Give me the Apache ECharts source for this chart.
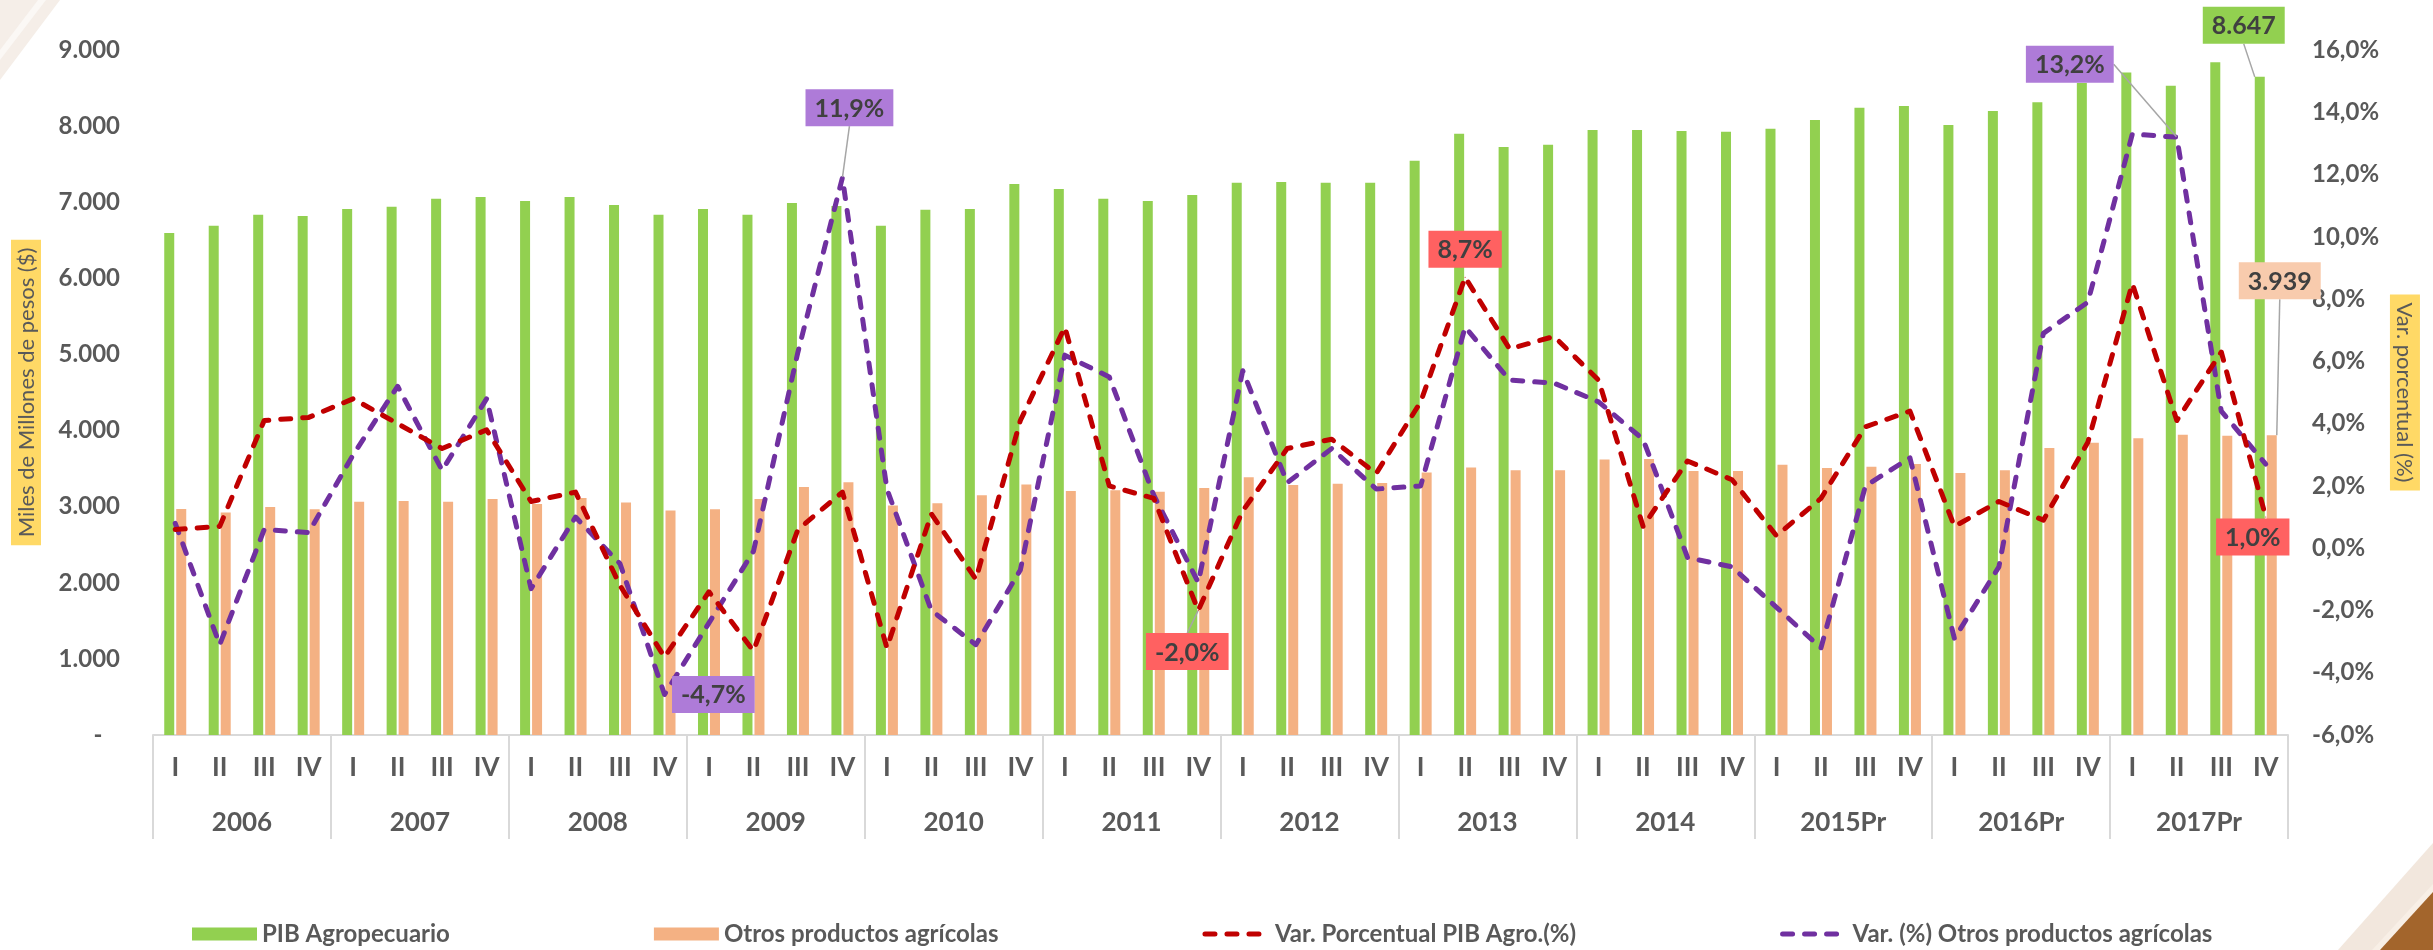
<!DOCTYPE html>
<html>
<head>
<meta charset="utf-8">
<title>PIB Agropecuario y Otros productos agrícolas</title>
<script src="https://cdn.jsdelivr.net/npm/echarts@6/dist/echarts.min.js"></script>
<style>
  html, body { margin: 0; padding: 0; background: #fff; }
  #main { width: 2433px; height: 950px; }
</style>
</head>
<body>
<div id="main"></div>
<script>
var myChart = echarts.init(document.getElementById('main'));

// datos trimestrales 2006 - 2017Pr
var years = ['2006', '2007', '2008', '2009', '2010', '2011', '2012', '2013', '2014', '2015Pr', '2016Pr', '2017Pr'];
var quarters = ['I', 'II', 'III', 'IV'];

// Miles de millones de pesos
var pibAgro = [
  6595, 6690, 6835, 6820, 6910, 6940, 7045, 7070, 7015, 7070, 6965, 6835,
  6910, 6835, 6990, 6950, 6690, 6900, 6910, 7240, 7175, 7045, 7015, 7095,
  7255, 7265, 7255, 7255, 7545, 7900, 7725, 7755, 7950, 7950, 7935, 7925,
  7965, 8080, 8240, 8265, 8015, 8200, 8315, 8565, 8705, 8530, 8840, 8647
];
var otrosAgricolas = [
  2970, 2925, 2995, 2965, 3065, 3075, 3065, 3100, 3035, 3115, 3055, 2950,
  2965, 3100, 3260, 3320, 3015, 3045, 3150, 3290, 3205, 3215, 3195, 3245,
  3385, 3285, 3300, 3310, 3450, 3515, 3480, 3480, 3620, 3625, 3468, 3468,
  3550, 3508, 3526, 3562, 3443, 3480, 3771, 3840, 3900, 3946, 3932, 3939
];
// Variación porcentual (%)
var varPibAgro = [
  0.6, 0.7, 4.1, 4.2, 4.8, 4.0, 3.2, 3.8, 1.5, 1.8, -1.2, -3.5,
  -1.4, -3.3, 0.6, 1.8, -3.2, 1.1, -1.0, 4.1, 7.1, 2.0, 1.6, -2.0,
  1.2, 3.2, 3.5, 2.4, 4.7, 8.7, 6.4, 6.8, 5.4, 0.7, 2.8, 2.2,
  0.4, 1.6, 3.9, 4.4, 0.7, 1.5, 0.9, 3.4, 8.5, 4.1, 6.3, 1.0
];
var varOtros = [
  0.8, -3.1, 0.6, 0.5, 3.0, 5.2, 2.5, 4.8, -1.3, 1.0, -0.5, -4.7,
  -2.4, -0.1, 6.3, 11.9, 1.9, -2.0, -3.1, -0.7, 6.2, 5.5, 1.7, -1.1,
  5.7, 2.1, 3.2, 1.9, 2.0, 7.1, 5.4, 5.3, 4.7, 3.5, -0.3, -0.6,
  -1.9, -3.2, 2.0, 2.9, -2.9, -0.6, 6.9, 7.9, 13.3, 13.2, 4.4, 2.7
];

var FONT = 'Lato, "Liberation Sans", sans-serif';
var TXT = '#595959';

var categories = [];
years.forEach(function (y) {
  quarters.forEach(function (q) { categories.push(y + '|' + q); });
});

function fmtMiles(v) {
  return String(Math.round(v)).replace(/\B(?=(\d{3})+(?!\d))/g, '.');
}
function fmtPct(v) {
  return v.toFixed(1).replace('.', ',') + '%';
}

// etiquetas destacadas: indice -> posicion y desplazamiento
var calloutsPib = { 47: { pos: 'top', dx: -16, dy: -28, line: true } };
var calloutsOtros = { 47: { pos: 'top', dx: 8, dy: -131, line: true } };
var calloutsVarPib = {
  23: { pos: 'bottom', dx: -11, dy: 17, line: true },
  29: { pos: 'top', dx: 0, dy: -4, line: false },
  47: { pos: 'bottom', dx: -13, dy: -4, line: false }
};
var calloutsVarOtros = {
  11: { pos: 'right', dx: 2, dy: 0, line: false },
  15: { pos: 'top', dx: 7, dy: -46, line: true },
  45: { pos: 'top', dx: -107, dy: -49, line: true }
};

function calloutLabel(bg, pos, fmt) {
  return {
    show: true,
    position: pos,
    backgroundColor: bg,
    padding: [7, 9, 5, 9],
    color: '#404040',
    fontSize: 25,
    fontWeight: 'bold',
    fontFamily: FONT,
    formatter: function (p) { return fmt(p.value); }
  };
}

function buildData(values, callouts, bg, fmt, isLine) {
  return values.map(function (v, i) {
    var c = callouts[i];
    if (!c) return v;
    var item = {
      value: v,
      label: calloutLabel(bg, c.pos, fmt),
      labelLine: { show: c.line, lineStyle: { color: '#A6A6A6', width: 1.5 } }
    };
    if (isLine) { item.symbol = 'circle'; item.symbolSize = 1; }
    return item;
  });
}

function layoutFrom(callouts) {
  return function (p) {
    var c = callouts[p.dataIndex];
    return c ? { dx: c.dx, dy: c.dy } : {};
  };
}

var option = {
  animation: false,
  backgroundColor: '#fff',
  textStyle: { fontFamily: FONT },
  graphic: [
    { type: 'polygon', silent: true, z: -10, shape: { points: [[0, 0], [60, 0], [0, 80]] }, style: { fill: '#f5eee8' } },
    { type: 'polygon', silent: true, z: -9, shape: { points: [[0, 50], [38, 0], [46, 0], [0, 60]] }, style: { fill: '#fbf8f5' } },
    { type: 'polygon', silent: true, z: -10, shape: { points: [[2433, 843], [2433, 950], [2338, 950]] }, style: { fill: '#f2e7dd' } },
    { type: 'polygon', silent: true, z: -9, shape: { points: [[2433, 884], [2433, 950], [2372, 950]] }, style: { fill: '#f8efe6' } },
    { type: 'polygon', silent: true, z: -8, shape: { points: [[2433, 892], [2433, 950], [2380, 950]] }, style: { fill: '#a3652c' } }
  ],
  legend: {
    left: 187,
    top: 917,
    itemWidth: 65,
    itemHeight: 13,
    itemGap: 204,
    textStyle: { fontSize: 24, fontWeight: 'bold', color: TXT, fontFamily: FONT },
    data: [
      { name: 'PIB Agropecuario', icon: 'rect' },
      { name: 'Otros productos agrícolas', icon: 'rect' },
      { name: 'Var. Porcentual PIB Agro.(%)', lineStyle: { width: 5 }, itemStyle: { opacity: 0 } },
      { name: 'Var. (%) Otros productos agrícolas', lineStyle: { width: 5 }, itemStyle: { opacity: 0 } }
    ]
  },
  grid: { left: 153, right: 145, top: 50, bottom: 215 },
  xAxis: [
    {
      type: 'category',
      data: categories,
      axisLine: { onZero: false, lineStyle: { color: '#D9D9D9', width: 2 } },
      axisTick: { show: false },
      axisLabel: {
        interval: 0,
        margin: 20,
        fontSize: 26,
        fontWeight: 'bold',
        color: TXT,
        fontFamily: FONT,
        formatter: function (v) { return v.split('|')[1]; }
      }
    },
    {
      type: 'category',
      data: years,
      position: 'bottom',
      axisLine: { show: false, onZero: false },
      axisTick: { show: true, length: 104, interval: 0, lineStyle: { color: '#D9D9D9', width: 2 } },
      axisLabel: { interval: 0, margin: 75, fontSize: 26, fontWeight: 'bold', color: TXT, fontFamily: FONT }
    }
  ],
  yAxis: [
    {
      type: 'value',
      min: 0,
      max: 9000,
      interval: 1000,
      splitLine: { show: false },
      axisLine: { show: false },
      axisTick: { show: false },
      axisLabel: {
        margin: 33,
        fontSize: 24,
        fontWeight: 'bold',
        color: TXT,
        fontFamily: FONT,
        formatter: function (v) { return v === 0 ? '-   ' : fmtMiles(v); }
      },
      name: 'Miles de Millones de pesos ($)',
      nameLocation: 'middle',
      nameRotate: 90,
      nameGap: 112,
      nameTextStyle: { fontSize: 22, color: TXT, backgroundColor: '#FFD966', padding: [5, 8, 3, 8], fontFamily: FONT }
    },
    {
      type: 'value',
      min: -6,
      max: 16,
      interval: 2,
      position: 'right',
      splitLine: { show: false },
      axisLine: { show: false },
      axisTick: { show: false },
      axisLabel: {
        margin: 24,
        fontSize: 24,
        fontWeight: 'bold',
        color: TXT,
        fontFamily: FONT,
        formatter: function (v) { return fmtPct(v); }
      },
      name: 'Var. porcentual (%)',
      nameLocation: 'middle',
      nameRotate: -90,
      nameGap: 97,
      nameTextStyle: { fontSize: 22, color: TXT, backgroundColor: '#FFD966', padding: [5, 8, 3, 8], fontFamily: FONT }
    }
  ],
  series: [
    {
      name: 'PIB Agropecuario',
      type: 'bar',
      barWidth: 10,
      barGap: '20%',
      itemStyle: { color: '#92D050' },
      data: buildData(pibAgro, calloutsPib, '#92D050', fmtMiles, false),
      labelLayout: layoutFrom(calloutsPib),
      z: 2
    },
    {
      name: 'Otros productos agrícolas',
      type: 'bar',
      barWidth: 10,
      barGap: '20%',
      itemStyle: { color: '#F4B183' },
      data: buildData(otrosAgricolas, calloutsOtros, '#F8CBAD', fmtMiles, false),
      labelLayout: layoutFrom(calloutsOtros),
      z: 2
    },
    {
      name: 'Var. Porcentual PIB Agro.(%)',
      type: 'line',
      yAxisIndex: 1,
      symbol: 'none',
      itemStyle: { color: '#C00000' },
      lineStyle: { color: '#C00000', width: 5, type: [10, 12], cap: 'round', join: 'round' },
      data: buildData(varPibAgro, calloutsVarPib, '#FF6161', fmtPct, true),
      labelLayout: layoutFrom(calloutsVarPib),
      z: 4
    },
    {
      name: 'Var. (%) Otros productos agrícolas',
      type: 'line',
      yAxisIndex: 1,
      symbol: 'none',
      itemStyle: { color: '#7030A0' },
      lineStyle: { color: '#7030A0', width: 5, type: [10, 12], cap: 'round', join: 'round' },
      data: buildData(varOtros, calloutsVarOtros, '#AE7BD8', fmtPct, true),
      labelLayout: layoutFrom(calloutsVarOtros),
      z: 3
    }
  ]
};

myChart.setOption(option);
</script>
</body>
</html>
